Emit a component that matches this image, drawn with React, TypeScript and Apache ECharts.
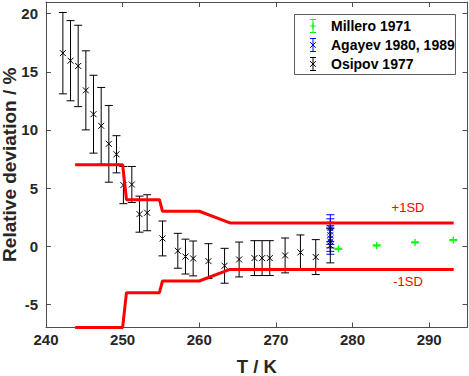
import React, { useEffect, useRef } from "react";
import * as echarts from "echarts";

// Osipov 1977
const osipovT = [242.2, 243.2, 244.2, 245.2, 246.2, 247.2, 248.2, 249.2, 250.1, 251.2, 252.2, 253.2, 255.2, 257.2, 258.2, 259.2, 261.2, 263.3, 265.2, 267.2, 268.2, 269.2, 271.2, 273.2, 275.2, 277.1];
const osipovV = [16.6, 15.95, 15.5, 13.4, 11.35, 10.35, 8.8, 7.9, 5.25, 5.3, 2.75, 2.87, 0.66, -0.4, -0.9, -1.06, -1.29, -1.69, -1.15, -1.03, -1.03, -1.03, -0.8, -0.54, -0.94, 0.06];
const osipovErr = [3.5, 3.45, 3.5, 3.4, 3.35, 3.3, 3.3, 1.6, 1.6, 1.55, 1.55, 1.55, 1.5, 1.5, 1.5, 1.5, 1.5, 1.5, 1.5, 1.5, 1.5, 1.5, 1.5, 1.5, 1.5, 1.5];

// Agayev 1980, 1989
const agayevT = [277.1, 277.1, 277.1, 277.1, 277.1];
const agayevV = [1.55, 1.25, 0.95, 0.65, 0.4];
const agayevErr = [1.15, 1.1, 1.1, 1.1, 1.1];

// Millero 1971
const milleroT = [278.15, 283.15, 288.15, 293.15];
const milleroV = [-0.23, 0.06, 0.32, 0.52];
const milleroErr = [0.05, 0.05, 0.05, 0.05];

// ±1SD bands
const sdT = [243.8, 250, 250.5, 254.8, 255.2, 260, 264, 293.2];
const sdUpper = [7, 7, 4, 4, 3, 3, 2, 2];
const sdLower = [-7, -7, -4, -4, -3, -3, -2, -2];

const xTicks = [240, 250, 260, 270, 280, 290];
const yTicks = [-5, 0, 5, 10, 15, 20];

const FONT = "'Liberation Sans', Arial, Helvetica, sans-serif";
const AXIS_COLOR = "#4d4d4d";
const LABEL_COLOR = "#262626";

function makeRender(color: string, marker: "x" | "+") {
  return (params: any, api: any) => {
    const x = api.value(0);
    const y = api.value(1);
    const e = api.value(2);
    const p = api.coord([x, y]);
    const t = api.coord([x, y + e]);
    const b = api.coord([x, y - e]);
    const cap = 4;
    const m = marker === "x" ? 3 : 3.5;
    const st = { stroke: color, lineWidth: 1 };
    const children: any[] = [
      { type: "line", shape: { x1: t[0], y1: t[1], x2: b[0], y2: b[1] }, style: st },
      { type: "line", shape: { x1: t[0] - cap, y1: t[1], x2: t[0] + cap, y2: t[1] }, style: st },
      { type: "line", shape: { x1: b[0] - cap, y1: b[1], x2: b[0] + cap, y2: b[1] }, style: st },
    ];
    if (marker === "x") {
      children.push(
        { type: "line", shape: { x1: p[0] - m, y1: p[1] - m, x2: p[0] + m, y2: p[1] + m }, style: st },
        { type: "line", shape: { x1: p[0] - m, y1: p[1] + m, x2: p[0] + m, y2: p[1] - m }, style: st }
      );
    } else {
      const st2 = { stroke: color, lineWidth: 1.3 };
      children.push(
        { type: "line", shape: { x1: p[0] - m, y1: p[1], x2: p[0] + m, y2: p[1] }, style: st2 },
        { type: "line", shape: { x1: p[0], y1: p[1] - m, x2: p[0], y2: p[1] + m }, style: st2 }
      );
    }
    return { type: "group", children };
  };
}

function legendIcon(cx: number, cy: number, color: string, marker: "x" | "+") {
  const st = { stroke: color, lineWidth: 1 };
  const h = 6.5;
  const cap = 3;
  const m = 2.8;
  const els: any[] = [
    { type: "line", shape: { x1: cx, y1: cy - h, x2: cx, y2: cy + h }, style: st },
    { type: "line", shape: { x1: cx - cap, y1: cy - h, x2: cx + cap, y2: cy - h }, style: st },
    { type: "line", shape: { x1: cx - cap, y1: cy + h, x2: cx + cap, y2: cy + h }, style: st },
  ];
  if (marker === "x") {
    els.push(
      { type: "line", shape: { x1: cx - m, y1: cy - m, x2: cx + m, y2: cy + m }, style: st },
      { type: "line", shape: { x1: cx - m, y1: cy + m, x2: cx + m, y2: cy - m }, style: st }
    );
  } else {
    els.push(
      { type: "line", shape: { x1: cx - m, y1: cy, x2: cx + m, y2: cy }, style: st },
      { type: "line", shape: { x1: cx, y1: cy - m, x2: cx, y2: cy + m }, style: st }
    );
  }
  return els;
}

export default function App() {
  const ref = useRef<HTMLDivElement>(null);
  useEffect(() => {
    if (!ref.current) return;
    const chart = echarts.init(ref.current, undefined, { renderer: "svg" });
    const osipov = osipovT.map((t, i) => [t, osipovV[i], osipovErr[i]]);
    const agayev = agayevT.map((t, i) => [t, agayevV[i], agayevErr[i]]);
    const millero = milleroT.map((t, i) => [t, milleroV[i], milleroErr[i]]);
    const upper = sdT.map((t, i) => [t, sdUpper[i]]);
    const lower = sdT.map((t, i) => [t, sdLower[i]]);

    const legendRows = [
      { label: "Millero 1971", color: "#00ff00", marker: "+" as const, y: 26 },
      { label: "Agayev 1980, 1989", color: "#0000ff", marker: "x" as const, y: 45 },
      { label: "Osipov 1977", color: "#000000", marker: "x" as const, y: 64 },
    ];
    const legendEls: any[] = [
      {
        type: "rect",
        shape: { x: 294.5, y: 14.5, width: 161, height: 60 },
        style: { fill: "#ffffff", stroke: "#333333", lineWidth: 0.8 },
        z: 10,
      },
    ];
    legendRows.forEach((r) => {
      legendIcon(313, r.y, r.color, r.marker).forEach((el) => legendEls.push({ ...el, z: 11 }));
      legendEls.push({
        type: "text",
        x: 331,
        y: r.y,
        z: 11,
        style: {
          text: r.label,
          fill: "#000000",
          font: `bold 14px ${FONT}`,
          textVerticalAlign: "middle",
          textAlign: "left",
        },
      });
    });

    const axisLine = { show: true, onZero: false, lineStyle: { color: AXIS_COLOR, width: 1 } };

    chart.setOption({
      animation: false,
      backgroundColor: "#ffffff",
      grid: { left: 46, right: 1.5, top: 2, bottom: 48.5, containLabel: false, outerBoundsMode: "none" },
      xAxis: [
        {
          type: "value",
          min: 240,
          max: 295,
          position: "bottom",
          axisLine,
          splitLine: { show: false },
          axisTick: { show: true, inside: true, length: 5, customValues: xTicks, lineStyle: { color: AXIS_COLOR } },
          axisLabel: {
            customValues: xTicks,
            color: LABEL_COLOR,
            fontFamily: FONT,
            fontWeight: "bold",
            fontSize: 15,
            margin: 4,
          },
          name: "T / K",
          nameLocation: "middle",
          nameGap: 29,
          nameMoveOverlap: false,
          nameTextStyle: { color: LABEL_COLOR, fontFamily: FONT, fontWeight: "bold", fontSize: 18.5 },
        },
        {
          type: "value",
          min: 240,
          max: 295,
          position: "top",
          axisLine,
          splitLine: { show: false },
          axisTick: { show: true, inside: true, length: 5, customValues: xTicks, lineStyle: { color: AXIS_COLOR } },
          axisLabel: { show: false },
        },
      ],
      yAxis: [
        {
          type: "value",
          min: -7,
          max: 21,
          position: "left",
          axisLine,
          splitLine: { show: false },
          axisTick: { show: true, inside: true, length: 5, customValues: yTicks, lineStyle: { color: AXIS_COLOR } },
          axisLabel: {
            customValues: yTicks,
            color: LABEL_COLOR,
            fontFamily: FONT,
            fontWeight: "bold",
            fontSize: 15,
            margin: 8,
          },
          name: "Relative deviation / %",
          nameLocation: "middle",
          nameGap: 27,
          nameMoveOverlap: false,
          nameTextStyle: { color: LABEL_COLOR, fontFamily: FONT, fontWeight: "bold", fontSize: 19 },
        },
        {
          type: "value",
          min: -7,
          max: 21,
          position: "right",
          axisLine,
          splitLine: { show: false },
          axisTick: { show: true, inside: true, length: 5, customValues: yTicks, lineStyle: { color: AXIS_COLOR } },
          axisLabel: { show: false },
        },
      ],
      series: [
        {
          type: "custom",
          name: "Millero 1971",
          xAxisIndex: 0,
          yAxisIndex: 0,
          data: millero,
          renderItem: makeRender("#00ff00", "+"),
          clip: true,
        },
        {
          type: "custom",
          name: "Agayev 1980, 1989",
          xAxisIndex: 0,
          yAxisIndex: 0,
          data: agayev,
          renderItem: makeRender("#0000ff", "x"),
          clip: true,
        },
        {
          type: "custom",
          name: "Osipov 1977",
          xAxisIndex: 0,
          yAxisIndex: 0,
          data: osipov,
          renderItem: makeRender("#000000", "x"),
          clip: true,
        },
        {
          type: "line",
          name: "+1SD",
          data: upper,
          symbol: "none",
          lineStyle: { color: "#ff0000", width: 3 },
          z: 5,
        },
        {
          type: "line",
          name: "-1SD",
          data: lower,
          symbol: "none",
          lineStyle: { color: "#ff0000", width: 3 },
          z: 5,
        },
      ],
      graphic: [
        {
          type: "text",
          x: 408,
          y: 207,
          style: { text: "+1SD", fill: "#ff0000", font: `13px ${FONT}`, textAlign: "center", textVerticalAlign: "middle" },
        },
        {
          type: "text",
          x: 408,
          y: 281,
          style: { text: "-1SD", fill: "#ff0000", font: `13px ${FONT}`, textAlign: "center", textVerticalAlign: "middle" },
        },
        ...legendEls,
      ],
    });
    return () => chart.dispose();
  }, []);
  return <div ref={ref} style={{ position: "absolute", left: 0, top: 0, width: 469, height: 376 }} />;
}
